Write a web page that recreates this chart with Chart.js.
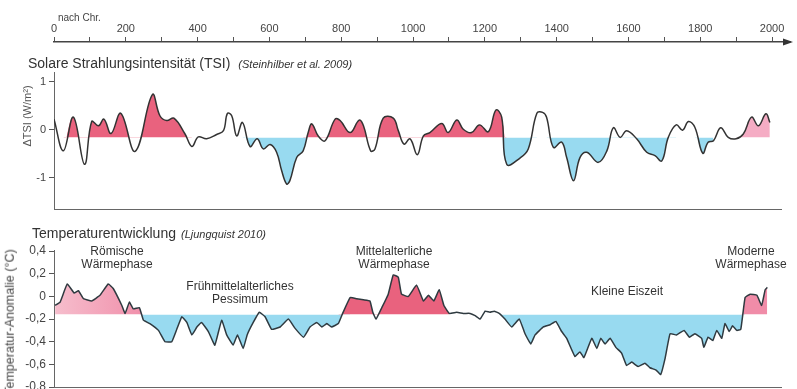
<!DOCTYPE html>
<html>
<head>
<meta charset="utf-8">
<script src="https://cdn.jsdelivr.net/npm/chart.js@4/dist/chart.umd.min.js"></script>
<style>
  html, body { margin: 0; padding: 0; background: #fff; overflow: hidden; }
  body { width: 797px; height: 389px; position: relative; font-family: "Liberation Sans", Arial, sans-serif; color: #333; }
  canvas { position: absolute; left: 0; }
  .txt { position: absolute; white-space: nowrap; line-height: 1; }
  .mid { transform: translate(-50%, -50%); text-align: center; }
  .note { font-size: 12px; line-height: 13px; color: #333; }
  .rot { transform: translate(-50%, -50%) rotate(-90deg); }
</style>
</head>
<body>
<canvas id="axis-canvas" width="797" height="50" style="top:0"></canvas>
<canvas id="tsi-canvas" width="797" height="152" style="top:60px"></canvas>
<canvas id="temp-canvas" width="797" height="152" style="top:238px"></canvas>

<div class="txt" style="left:58px; top:13px; font-size:10px; color:#444">nach Chr.</div>

<div class="txt" style="left:28px; top:56px; font-size:14px">Solare Strahlungsintensität (TSI)<i style="font-size:11px; margin-left:8px">(Steinhilber et al. 2009)</i></div>
<div class="txt rot" style="left:27px; top:116px; font-size:11px; color:#555">ΔTSI (W/m²)</div>

<div class="txt" style="left:32px; top:226px; font-size:14px">Temperaturentwicklung<i style="font-size:11px; margin-left:5px">(Ljungquist 2010)</i></div>
<div class="txt rot" style="left:10px; top:322px; font-size:12.5px; color:#444">Temperatur-Anomalie (°C)</div>

<div class="txt mid note" style="left:117px; top:258px">Römische<br>Wärmephase</div>
<div class="txt mid note" style="left:240px; top:293px">Frühmittelalterliches<br>Pessimum</div>
<div class="txt mid note" style="left:394px; top:258px">Mittelalterliche<br>Wärmephase</div>
<div class="txt mid note" style="left:627px; top:291px">Kleine Eiszeit</div>
<div class="txt mid note" style="left:751px; top:258px">Moderne<br>Wärmephase</div>

<script>
// top time axis
const yearTicks = [0, 100, 200, 300, 400, 500, 600, 700, 800, 900, 1000,
  1100, 1200, 1300, 1400, 1500, 1600, 1700, 1800, 1900, 2000];
const yearLabelStep = 200;

// solar irradiance (Steinhilber et al. 2009), W/m2 anomaly
const tsiYears = [0, 26, 54, 85, 105, 124, 139, 159, 186, 226, 274, 295, 314, 334, 365, 384,
  402, 425, 453, 472, 483, 495, 509, 525, 546, 566, 583, 602, 620, 634, 648, 657, 676, 694,
  708, 718, 736, 755, 783, 797, 825, 850, 862, 882, 894, 917, 945, 959, 975, 992, 1012, 1029,
  1047, 1080, 1098, 1122, 1140, 1163, 1185, 1210, 1231, 1247, 1261, 1298, 1321, 1345, 1361,
  1372, 1391, 1414, 1428, 1447, 1465, 1484, 1516, 1540, 1558, 1577, 1595, 1623, 1651, 1674,
  1693, 1711, 1733, 1751, 1767, 1785, 1807, 1822, 1837, 1857, 1878, 1900, 1920, 1943, 1962,
  1983, 1994];
const tsiValues = [0.22, -0.44, 0.26, -0.72, 0.17, 0.08, 0.22, -0.08, 0.34, -0.45, 0.73, 0.29,
  0.19, 0.24, -0.09, -0.35, -0.15, -0.19, -0.10, -0.02, 0.34, 0.29, -0.13, 0.15, -0.35, -0.19,
  -0.40, -0.31, -0.47, -0.85, -1.13, -1.06, -0.58, -0.44, -0.06, 0.12, -0.13, -0.23, 0.22, 0.19,
  -0.06, 0.20, 0.08, -0.44, -0.40, 0.24, 0.24, -0.02, -0.30, -0.19, -0.52, -0.13, -0.06, 0.13,
  -0.06, 0.20, 0.01, -0.06, 0.10, -0.04, 0.41, 0.26, -0.72, -0.59, -0.40, 0.34, 0.36, 0.26,
  -0.37, -0.26, -0.58, -1.06, -0.58, -0.47, -0.68, -0.44, 0.04, -0.16, -0.02, -0.19, -0.47,
  -0.54, -0.65, -0.16, 0.10, -0.01, 0.17, 0.05, -0.49, -0.26, -0.23, 0.04, -0.16, -0.19, -0.09,
  0.26, 0.08, 0.33, 0.15];
const tsiTicks = [1, 0, -1];
const tsiBase = -0.16;
const tsiWarmRanges = [[25, 390], [690, 1015], [1010, 1265]];
const tsiModernRanges = [[1900, 2000]];
const tsiColdRanges = [[520, 710], [1245, 1350], [1370, 1735], [1785, 1837]];

// temperature anomaly (Ljungqvist 2010), deg C
const tempYears = [3, 17, 37, 56, 68, 82, 105, 128, 151, 165, 189, 198, 210, 221, 238, 249, 267,
  291, 309, 328, 342, 356, 370, 384, 398, 411, 430, 448, 467, 481, 499, 511, 527, 538, 555, 572,
  588, 606, 630, 653, 671, 695, 713, 732, 746, 760, 773, 792, 804, 825, 843, 862, 880, 888, 897,
  913, 931, 945, 959, 968, 987, 1010, 1029, 1043, 1058, 1073, 1086, 1101, 1122, 1140, 1159,
  1173, 1187, 1201, 1214, 1226, 1240, 1256, 1275, 1296, 1312, 1328, 1340, 1363, 1382, 1398,
  1414, 1428, 1451, 1465, 1476, 1498, 1512, 1523, 1535, 1549, 1565, 1581, 1595, 1609, 1627,
  1646, 1660, 1677, 1690, 1702, 1716, 1734, 1755, 1770, 1785, 1804, 1810, 1822, 1835, 1846,
  1860, 1869, 1881, 1890, 1902, 1913, 1925, 1939, 1958, 1971, 1981, 1987];
const tempValues = [-0.08, -0.05, 0.11, 0.03, 0.05, -0.02, -0.04, 0.01, 0.11, 0.07, -0.08, -0.15,
  -0.05, -0.11, -0.10, -0.21, -0.24, -0.30, -0.40, -0.40, -0.29, -0.18, -0.23, -0.34, -0.27,
  -0.23, -0.31, -0.43, -0.21, -0.34, -0.43, -0.34, -0.46, -0.34, -0.23, -0.14, -0.18, -0.29,
  -0.27, -0.20, -0.28, -0.36, -0.27, -0.23, -0.27, -0.24, -0.27, -0.24, -0.15, -0.01, -0.02,
  -0.03, -0.04, -0.14, -0.20, -0.10, 0.02, 0.19, 0.17, 0.02, 0.00, 0.10, -0.04, 0.01, -0.04,
  0.06, -0.08, -0.15, -0.14, -0.15, -0.15, -0.17, -0.20, -0.13, -0.14, -0.13, -0.15, -0.20,
  -0.27, -0.20, -0.33, -0.42, -0.34, -0.27, -0.25, -0.22, -0.31, -0.37, -0.53, -0.49, -0.54,
  -0.37, -0.46, -0.37, -0.42, -0.37, -0.45, -0.50, -0.61, -0.58, -0.62, -0.59, -0.63, -0.65,
  -0.69, -0.55, -0.33, -0.34, -0.30, -0.36, -0.33, -0.37, -0.45, -0.36, -0.39, -0.30, -0.37,
  -0.24, -0.31, -0.26, -0.30, -0.29, -0.01, 0.02, 0.01, -0.08, 0.06, 0.08];
const tempTicks = [0.4, 0.2, 0, -0.2, -0.4, -0.6, -0.8];
const tempBase = -0.16;
const tempRomanRanges = [[0, 255]];
const tempWarmRanges = [[790, 1105]];
const tempModernRanges = [[1910, 2000]];
const tempColdRanges = [[235, 830], [1240, 1930]];

const RED = "rgb(233, 98, 126)";
const PINK = "rgb(240, 140, 168)";
const LIGHT_PINK = "rgb(245, 172, 196)";
const BLUE = "rgb(152, 218, 240)";
const CLEAR = "rgba(0,0,0,0)";
const FONT = "'Liberation Sans', Arial, sans-serif";

function toPoints(years, values) {
  return years.map((x, i) => ({ x: x, y: values[i] }));
}

function maskPoints(years, values, ranges) {
  return years.map((x, i) => {
    let inside = ranges.some(r => x >= r[0] && x <= r[1]);
    return { x: x, y: inside ? values[i] : null };
  });
}

function band(years, values, ranges, base, color, warm, tension) {
  return {
    data: maskPoints(years, values, ranges),
    borderWidth: 0,
    borderColor: CLEAR,
    pointRadius: 0,
    tension: tension,
    fill: {
      target: { value: base },
      above: warm ? color : CLEAR,
      below: warm ? CLEAR : color,
    },
  };
}

function commaLabel(v) {
  if (Math.abs(v) < 1e-9) return "0";
  return v.toFixed(1).replace(".", ",");
}

const arrowPlugin = {
  id: "arrow",
  afterDraw(chart) {
    let ctx = chart.ctx;
    let a = chart.chartArea;
    ctx.save();
    ctx.fillStyle = "#333";
    ctx.beginPath();
    ctx.moveTo(a.right + 3, a.top);
    ctx.lineTo(a.right - 7, a.top - 3.5);
    ctx.lineTo(a.right - 7, a.top + 3.5);
    ctx.closePath();
    ctx.fill();
    ctx.restore();
  },
};

function createAxisChart() {
  new Chart(document.getElementById("axis-canvas"), {
    type: "line",
    data: { datasets: [{ data: [] }] },
    options: {
      responsive: false,
      animation: false,
      events: [],
      layout: { padding: { left: 54, right: 7, top: 0, bottom: 0 } },
      plugins: { legend: { display: false }, tooltip: { enabled: false } },
      scales: {
        x: {
          type: "linear",
          position: "top",
          min: 0,
          max: 2050,
          afterBuildTicks: s => { s.ticks = yearTicks.map(v => ({ value: v })); },
          afterFit: s => { s.height = 42; },
          ticks: {
            autoSkip: false,
            maxRotation: 0,
            padding: 1,
            color: "#444",
            font: { family: FONT, size: 11 },
            callback: v => (v % yearLabelStep == 0 ? String(v) : ""),
          },
          grid: { drawOnChartArea: false, tickLength: 5, color: "#555" },
          border: { color: "#444", width: 1.5 },
        },
        y: { display: false },
      },
    },
    plugins: [arrowPlugin],
  });
}

function panelOptions(yMin, yMax, ticks, labelFn, fontSize) {
  return {
    responsive: false,
    animation: false,
    events: [],
    layout: { padding: { left: 0, right: 16, top: 12, bottom: 3 } },
    plugins: { legend: { display: false }, tooltip: { enabled: false } },
    scales: {
      x: {
        type: "linear",
        min: 0,
        max: 2025,
        ticks: { display: false },
        grid: { display: false, drawTicks: false },
        border: { display: true, color: "#666", width: 1 },
        afterFit: s => { s.height = 0; },
      },
      y: {
        min: yMin,
        max: yMax,
        afterBuildTicks: s => { s.ticks = ticks.map(v => ({ value: v })); },
        afterFit: s => { s.width = 54; s.paddingTop = 0; s.paddingBottom = 0; },
        ticks: {
          autoSkip: false,
          maxTicksLimit: 20,
          padding: 3,
          color: "#444",
          font: { family: FONT, size: fontSize },
          callback: labelFn,
        },
        grid: { drawOnChartArea: false, tickLength: 5, color: "#555" },
        border: { color: "#666", width: 1 },
      },
    },
  };
}

function createTsiChart() {
  let t = 0.4;
  new Chart(document.getElementById("tsi-canvas"), {
    type: "line",
    data: {
      datasets: [
        {
          data: toPoints(tsiYears, tsiValues),
          borderColor: "#333",
          borderWidth: 1.5,
          pointRadius: 0,
          tension: t,
          fill: false,
        },
        band(tsiYears, tsiValues, tsiWarmRanges, tsiBase, RED, true, t),
        band(tsiYears, tsiValues, tsiModernRanges, tsiBase, LIGHT_PINK, true, t),
        band(tsiYears, tsiValues, tsiColdRanges, tsiBase, BLUE, false, t),
      ],
    },
    options: panelOptions(-1.65, 1.2, tsiTicks, v => String(v), 11),
  });
}

function createTempChart() {
  let t = 0.1;
  let canvas = document.getElementById("temp-canvas");
  // roman warm phase fades in from the left
  let roman = canvas.getContext("2d").createLinearGradient(54, 0, 150, 0);
  roman.addColorStop(0, "rgb(246, 190, 205)");
  roman.addColorStop(1, PINK);
  new Chart(canvas, {
    type: "line",
    data: {
      datasets: [
        {
          data: toPoints(tempYears, tempValues),
          borderColor: "#2f3a40",
          borderWidth: 1.5,
          pointRadius: 0,
          tension: t,
          fill: false,
        },
        band(tempYears, tempValues, tempRomanRanges, tempBase, roman, true, t),
        band(tempYears, tempValues, tempWarmRanges, tempBase, RED, true, t),
        band(tempYears, tempValues, tempModernRanges, tempBase, PINK, true, t),
        band(tempYears, tempValues, tempColdRanges, tempBase, BLUE, false, t),
      ],
    },
    options: panelOptions(-0.8, 0.41, tempTicks, v => commaLabel(v), 12),
  });
}

createAxisChart();
createTsiChart();
createTempChart();
</script>
</body>
</html>
